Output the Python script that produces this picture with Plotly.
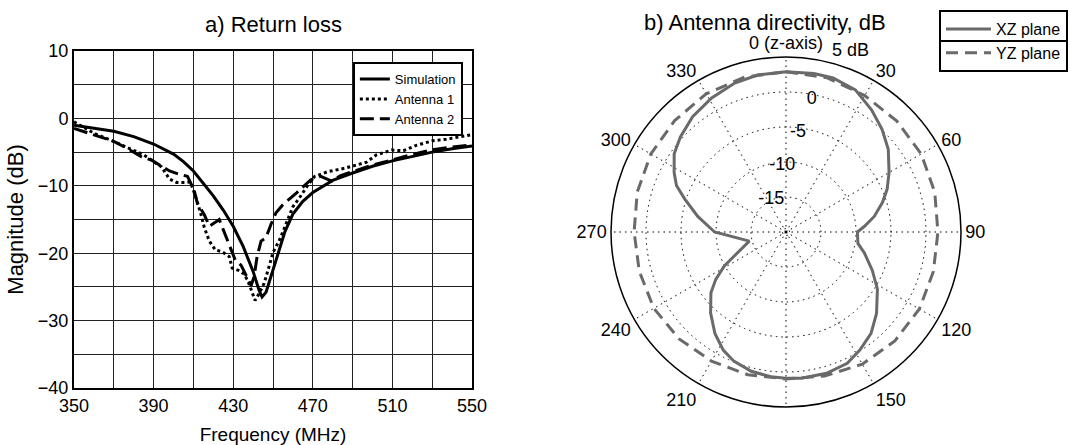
import plotly.graph_objects as go

# ---------------- data: a) Return loss ----------------
sim_f = [350, 360, 370, 380, 390, 400, 405, 410, 415, 420, 425, 430, 435, 440, 443, 444.5, 446.5,
         450, 453, 456, 460, 465, 470, 480, 490, 500, 510, 520, 530, 540, 550]
sim_db = [-1.0, -1.4, -1.9, -2.7, -3.8, -5.3, -6.4, -7.8, -9.6, -11.5, -13.6, -16.0, -19.0, -22.7,
          -25.5, -26.5, -25.8, -22.5, -19.5, -16.8, -14.2, -12.3, -11.0, -9.2, -8.1, -7.1, -6.3,
          -5.6, -5.0, -4.5, -4.1]

ant1_f = [350, 360, 369, 378, 385, 390, 394, 398, 401.5, 406, 408.5, 411, 413.5, 415.5, 418, 421,
          424.5, 428, 429.5, 433, 435.5, 437.5, 439, 441, 443, 445.5, 448, 450, 453.5, 456.7, 460,
          463.5, 467.7, 471, 477.5, 486, 490.5, 497, 502, 509.7, 515.5, 522, 530.5, 537, 550]
ant1_db = [-0.5, -2.2, -3.3, -4.5, -5.4, -6.4, -7.2, -9.0, -9.5, -9.5, -9.4, -11.5, -13.9, -16.2,
           -18.2, -19.5, -19.8, -20.5, -22.2, -22.6, -23.1, -24.2, -25.5, -27.0, -26.0, -24.5,
           -22.0, -19.9, -17.9, -15.5, -13.1, -11.7, -9.8, -8.6, -7.9, -7.4, -7.0, -6.5, -5.4,
           -4.7, -4.8, -4.0, -3.3, -3.1, -2.4]

ant2_f = [350, 360, 370, 377, 384, 389, 393, 398, 403, 407, 408.5, 410.5, 412, 415.5, 418, 420.5,
          423, 425, 427, 429, 431, 434, 436.5, 439, 440.5, 442, 444, 446.5, 449, 451.5, 455, 459,
          462, 469, 474, 479.5, 484, 490, 499, 507, 519, 531, 540, 550]
ant2_db = [-1.5, -2.5, -3.4, -4.5, -5.7, -6.2, -6.9, -7.8, -8.3, -8.6, -9.5, -10.8, -12.6, -14.3,
           -16.0, -15.5, -15.0, -16.5, -18.0, -19.5, -21.0, -21.8, -23.3, -24.8, -23.5, -20.5,
           -18.2, -17.7, -15.7, -14.0, -12.8, -11.8, -11.0, -9.1, -8.6, -9.3, -8.5, -7.9, -7.0,
           -6.4, -5.4, -4.6, -4.3, -3.9]

x_ticks = [350, 390, 430, 470, 510, 550]
y_ticks = [10, 0, -10, -20, -30, -40]

# ---------------- data: b) Antenna directivity ----------------
xz_theta = [0, 10, 17, 26, 35, 43, 51, 60, 67, 73, 80, 86, 90, 99, 105, 114, 122, 132, 140, 148,
            155, 164, 174, 180, 186, 194, 202, 208, 215, 223, 231, 236, 241, 245, 256, 270, 280,
            288, 293, 298, 305, 312, 321, 331, 341, 350, 360]
xz_r = [2.9, 3.0, 3.0, 2.6, 1.3, 0.1, -1.2, -3.0, -4.3, -5.6, -7.2, -8.8, -9.8, -9.6, -8.4, -6.5,
        -4.6, -2.6, -1.1, -0.1, 0.7, 1.0, 1.0, 0.9, 0.8, 0.5, -0.1, -0.9, -2.3, -4.2, -6.2, -7.9,
        -9.9, -11.8, -14.6, -9.8, -7.2, -4.8, -3.0, -1.9, -0.5, 0.3, 1.2, 1.9, 2.5, 2.8, 2.9]

yz_theta = [0, 15, 30, 45, 60, 75, 90, 105, 120, 135, 150, 165, 180, 195, 210, 225, 240, 255, 270,
            285, 300, 315, 330, 345, 360]
yz_r = [2.9, 2.8, 2.5, 2.4, 2.3, 2.0, 1.7, 1.8, 2.0, 2.0, 1.8, 1.3, 1.0, 1.1, 1.3, 1.6, 1.8, 1.7,
        1.7, 2.0, 2.3, 2.5, 2.8, 2.9, 2.9]

ang_ticks = [0, 30, 60, 90, 120, 150, 180, 210, 240, 270, 300, 330]
ang_text = ["0 (z-axis)", "30", "60", "90", "120", "150", "", "210", "240", "270", "300", "330"]
rad_ticks = [-19.5, -15, -10, -5, 0, 5]
rad_text = ["", "-15", "-10", "-5", "0", ""]
rad_outer_label = "5 dB"

FONT = "Liberation Sans, Arial, sans-serif"
GRAY = "#6a6a6a"

fig = go.Figure()

fig.add_trace(go.Scatter(x=sim_f, y=sim_db, mode="lines", name="Simulation",
                         line=dict(color="black", width=3), legend="legend"))
fig.add_trace(go.Scatter(x=ant1_f, y=ant1_db, mode="lines", name="Antenna 1",
                         line=dict(color="black", width=3, dash="3px,3px"), legend="legend"))
fig.add_trace(go.Scatter(x=ant2_f, y=ant2_db, mode="lines", name="Antenna 2",
                         line=dict(color="black", width=3, dash="14px,6px"), legend="legend"))

fig.add_trace(go.Scatterpolar(theta=xz_theta, r=xz_r, mode="lines", name="XZ plane",
                              line=dict(color=GRAY, width=3), legend="legend2"))
fig.add_trace(go.Scatterpolar(theta=yz_theta, r=yz_r, mode="lines", name="YZ plane",
                              line=dict(color=GRAY, width=3, dash="12px,7px"), legend="legend2"))

fig.update_layout(
    width=1070, height=445,
    margin=dict(l=0, r=0, t=0, b=0),
    template="none",
    paper_bgcolor="white", plot_bgcolor="white",
    font=dict(family=FONT, size=18, color="black"),
    xaxis=dict(domain=[74 / 1070, 472 / 1070], range=[350, 550], tickvals=x_ticks,
               showgrid=True, gridcolor="#222", gridwidth=1.4,
               minor=dict(dtick=20, tick0=350, showgrid=True, gridcolor="#222", gridwidth=1.4),
               showline=True, linecolor="black", linewidth=2, mirror=True, ticks="",
               zeroline=False, automargin=False,
               title=dict(text="Frequency (MHz)", font=dict(size=19), standoff=13),
               tickfont=dict(size=18)),
    yaxis=dict(domain=[1 - 388 / 445, 1 - 51 / 445], range=[-40, 10], tickvals=y_ticks,
               showgrid=True, gridcolor="#222", gridwidth=1.4,
               minor=dict(dtick=5, tick0=0, showgrid=True, gridcolor="#222", gridwidth=1.4),
               showline=True, linecolor="black", linewidth=2, mirror=True, ticks="",
               zeroline=False, automargin=False,
               title=dict(text="Magnitude (dB)", font=dict(size=22), standoff=8),
               tickfont=dict(size=18)),
    polar=dict(
        domain=dict(x=[611 / 1070, 961 / 1070], y=[1 - 407 / 445, 1 - 57 / 445]),
        bgcolor="white",
        radialaxis=dict(range=[-20, 5], tickvals=rad_ticks, ticktext=rad_text,
                        showline=False, ticks="", angle=72, tickangle=72,
                        side="counterclockwise",
                        showgrid=True, gridcolor="black", gridwidth=1.2, griddash="1.5px,4px",
                        tickfont=dict(size=18)),
        angularaxis=dict(rotation=90, direction="clockwise", tickvals=ang_ticks,
                         ticktext=ang_text, showline=True, linecolor="black", linewidth=1.5,
                         ticks="", showgrid=True, gridcolor="black", gridwidth=1.2,
                         griddash="1.5px,4px", tickfont=dict(size=18)),
    ),
    legend=dict(x=(74 + 0.977 * 398) / 1070, y=1 - (51 + 0.033 * 337) / 445,
                xref="paper", yref="paper", xanchor="right", yanchor="top",
                bordercolor="black", borderwidth=2, bgcolor="white",
                font=dict(size=13), itemwidth=30, tracegroupgap=0),
    legend2=dict(x=1068 / 1070, y=1 - 10 / 445, xanchor="right", yanchor="top",
                 bordercolor="black", borderwidth=2, bgcolor="rgba(0,0,0,0)",
                 font=dict(size=16), itemwidth=45),
    showlegend=True,
)

fig.add_annotation(text="a) Return loss", x=273 / 1070, y=1 - 24 / 445, xref="paper",
                   yref="paper", showarrow=False, font=dict(size=22), xanchor="center",
                   yanchor="middle")
fig.add_annotation(text="b) Antenna directivity, dB", x=765 / 1070, y=1 - 23 / 445,
                   xref="paper", yref="paper", showarrow=False, font=dict(size=22),
                   xanchor="center", yanchor="middle")
# label of the outer (5 dB) ring, just outside the circle as in the reference
fig.add_annotation(text=rad_outer_label, x=850 / 1070, y=1 - 50 / 445, xref="paper",
                   yref="paper", showarrow=False, font=dict(size=18), xanchor="center",
                   yanchor="middle")

# separator line between the two rows of the right legend box
fig.add_shape(type="line", xref="paper", yref="paper", x0=940 / 1070, x1=1068 / 1070,
              y0=1 - 41 / 445, y1=1 - 41 / 445, line=dict(color="black", width=2))

fig.write_html("out.html", config={"displayModeBar": False},
               post_script="document.body.style.margin='0px';"
                           "document.body.style.overflow='hidden';")
